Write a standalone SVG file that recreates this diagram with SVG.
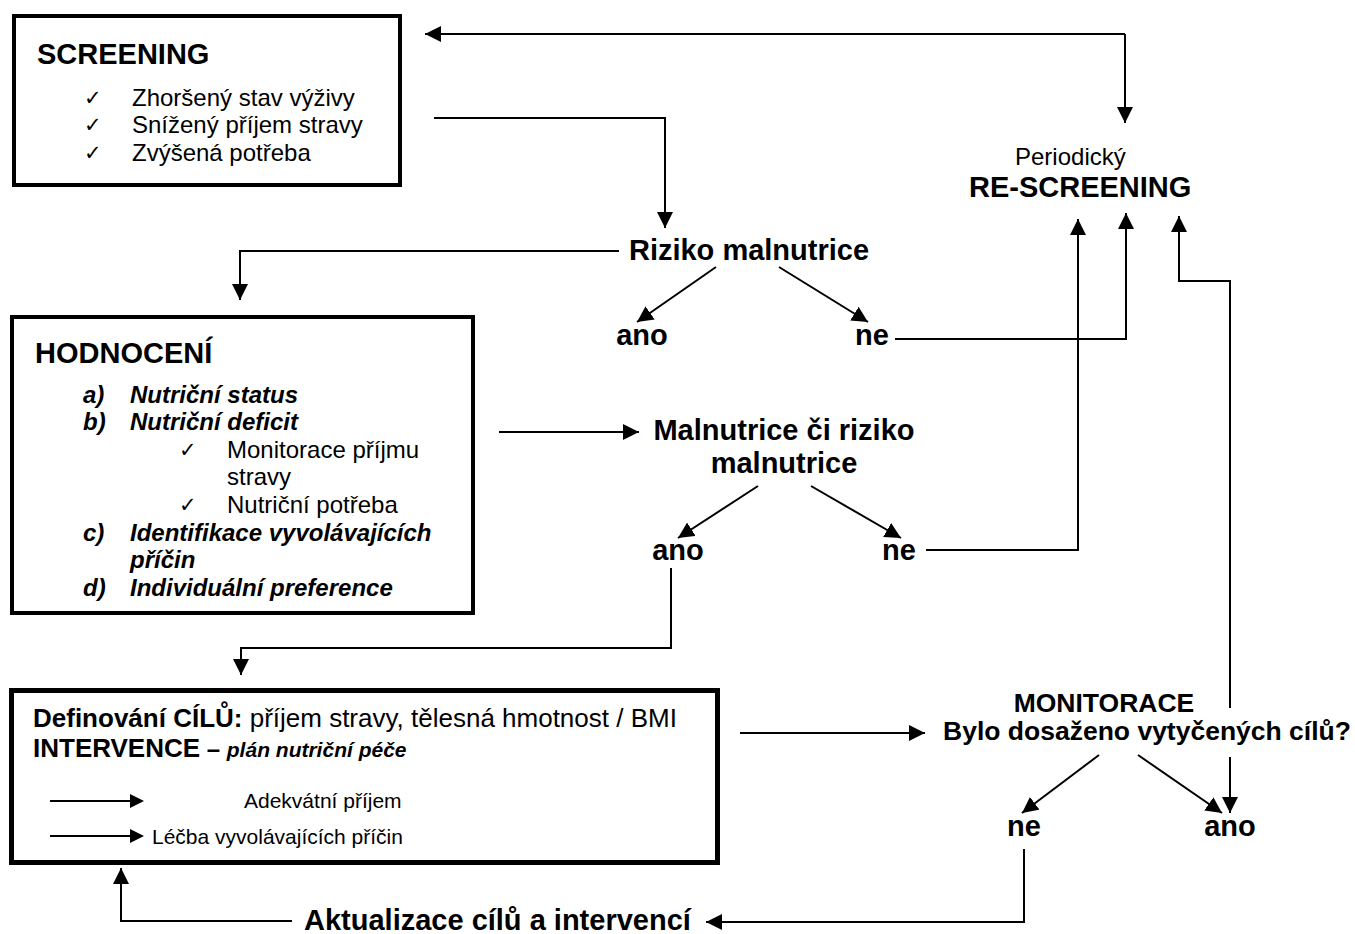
<svg xmlns="http://www.w3.org/2000/svg" width="1355" height="934" viewBox="0 0 1355 934">
<defs>
<marker id="ah" markerUnits="userSpaceOnUse" markerWidth="16" markerHeight="16" refX="16" refY="8" orient="auto"><path d="M0,0 L16,8 L0,16 z" fill="#000"/></marker>
<style>
text{font-family:"Liberation Sans",Arial,sans-serif;fill:#000}
.b{font-weight:bold}
.t29{font-size:29px;font-weight:bold}
.t26{font-size:26.5px;font-weight:bold}
.r24{font-size:24px}
.bi24{font-size:24px;font-weight:bold;font-style:italic}
.r21{font-size:21px}
.ck{font-family:"DejaVu Sans",sans-serif;font-size:21px}
.box{fill:#fff;stroke:#000;stroke-width:4}
.c{fill:none;stroke:#000;stroke-width:2;marker-end:url(#ah)}
.l{fill:none;stroke:#000;stroke-width:2}
.m{text-anchor:middle}
</style>
</defs>

<g id="connectors">
<path class="c" d="M1125,34 L425,34"/>
<path class="c" d="M1125,34 L1125,123"/>
<path class="c" d="M434,118 L665,118 L665,228"/>
<path class="c" d="M619,251 L240,251 L240,300"/>
<path class="c" d="M716,267 L637,322"/>
<path class="c" d="M779,267 L868,322"/>
<path class="c" d="M895,339 L1126,339 L1126,213"/>
<path class="c" d="M499,432 L639,432"/>
<path class="c" d="M758,486 L678,538"/>
<path class="c" d="M811,486 L901,538"/>
<path class="c" d="M926,550 L1078,550 L1078,219"/>
<path class="c" d="M671,568 L671,648 L241,648 L241,675"/>
<path class="c" d="M1230,708 L1230,281 L1179,281 L1179,216"/>
<path class="c" d="M1230,757 L1230,813"/>
<path class="c" d="M740,733 L925,733"/>
<path class="c" d="M1099,755 L1022,813"/>
<path class="c" d="M1138,755 L1222,813"/>
<path class="c" d="M1024,849 L1024,922 L706,922"/>
<path class="c" d="M292,921 L121,921 L121,868"/>
</g>

<g id="screening">
<rect class="box" x="14" y="16" width="386" height="169"/>
<text class="t29" x="37" y="64">SCREENING</text>
<text class="ck" x="84" y="105">✓</text>
<text class="r24" x="132" y="106">Zhoršený stav výživy</text>
<text class="ck" x="84" y="132">✓</text>
<text class="r24" x="132" y="133">Snížený příjem stravy</text>
<text class="ck" x="84" y="160">✓</text>
<text class="r24" x="132" y="161">Zvýšená potřeba</text>
</g>

<g id="rescreening">
<text class="r24" x="1015" y="165">Periodický</text>
<text class="t29" x="969" y="197">RE-SCREENING</text>
</g>

<g id="riziko">
<text class="t29 m" x="749" y="260">Riziko malnutrice</text>
</g>
<g id="riziko-ano"><text class="t29 m" x="642" y="345">ano</text></g>
<g id="riziko-ne"><text class="t29 m" x="872" y="345">ne</text></g>

<g id="hodnoceni">
<rect class="box" x="12" y="317" width="461" height="296"/>
<text class="t29" x="35" y="363">HODNOCENÍ</text>
<text class="bi24" x="83" y="403">a)</text>
<text class="bi24" x="130" y="403">Nutriční status</text>
<text class="bi24" x="83" y="430">b)</text>
<text class="bi24" x="130" y="430">Nutriční deficit</text>
<text class="ck" x="179" y="457">✓</text>
<text class="r24" x="227" y="458">Monitorace příjmu</text>
<text class="r24" x="227" y="485">stravy</text>
<text class="ck" x="179" y="512">✓</text>
<text class="r24" x="227" y="513">Nutriční potřeba</text>
<text class="bi24" x="83" y="541">c)</text>
<text class="bi24" x="130" y="541">Identifikace vyvolávajících</text>
<text class="bi24" x="130" y="568">příčin</text>
<text class="bi24" x="83" y="596">d)</text>
<text class="bi24" x="130" y="596">Individuální preference</text>
</g>

<g id="malnutrice">
<text class="t29 m" x="784" y="440">Malnutrice či riziko</text>
<text class="t29 m" x="784" y="473">malnutrice</text>
</g>
<g id="malnutrice-ano"><text class="t29 m" x="678" y="560">ano</text></g>
<g id="malnutrice-ne"><text class="t29 m" x="899" y="560">ne</text></g>

<g id="cile">
<rect fill="#fff" stroke="#000" stroke-width="5" x="11.5" y="690.5" width="706" height="172"/>
<text x="33" y="727" style="font-size:26px"><tspan class="b">Definování CÍLŮ:</tspan> příjem stravy, tělesná hmotnost / BMI</text>
<text x="33" y="757" style="font-size:26px"><tspan class="b">INTERVENCE</tspan><tspan class="b" style="font-size:24px"> – </tspan><tspan class="b" style="font-size:21px;font-style:italic">plán nutriční péče</tspan></text>
<path class="l" d="M50,801 L132,801"/>
<path d="M130,794 L144,801 L130,808 z" fill="#000"/>
<text class="r21" x="244" y="808">Adekvátní příjem</text>
<path class="l" d="M50,836 L132,836"/>
<path d="M130,829 L144,836 L130,843 z" fill="#000"/>
<text class="r21" x="152" y="844">Léčba vyvolávajících příčin</text>
</g>

<g id="monitorace">
<text class="t26 m" x="1104" y="712">MONITORACE</text>
<text class="t26 m" x="1147" y="740">Bylo dosaženo vytyčených cílů?</text>
</g>
<g id="monitorace-ne"><text class="t29 m" x="1024" y="836">ne</text></g>
<g id="monitorace-ano"><text class="t29 m" x="1230" y="836">ano</text></g>

<g id="aktualizace">
<text class="t29" x="304" y="930">Aktualizace cílů a intervencí</text>
</g>
</svg>
